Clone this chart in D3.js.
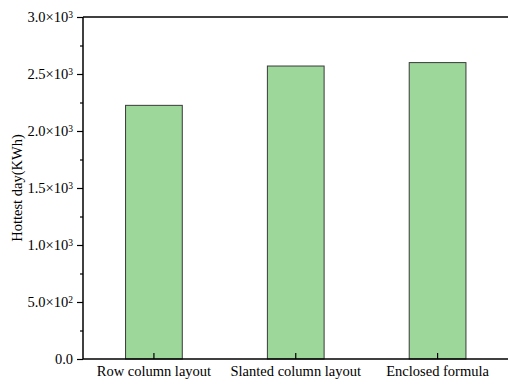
<!DOCTYPE html>
<html>
<head>
<meta charset="utf-8">
<script src="https://cdn.jsdelivr.net/npm/d3@7"></script>
<style>
  body { margin: 0; background: #fff; }
  text { font-family: "Liberation Serif", "Times New Roman", serif; fill: #000; }
</style>
</head>
<body>
<div id="chart"></div>
<script>
const categories = ["Row column layout", "Slanted column layout", "Enclosed formula"];
const values = [2225, 2570, 2600];
const yTicks = [0, 500, 1000, 1500, 2000, 2500, 3000];
const yTickMant = ["0.0", "5.0", "1.0", "1.5", "2.0", "2.5", "3.0"];
const yTickExp = ["", "2", "3", "3", "3", "3", "3"];

const width = 508, height = 381;
const margin = { top: 17, right: 0, bottom: 22, left: 83 };

const svg = d3.select("#chart")
  .append("svg")
  .attr("width", width)
  .attr("height", height);

const x = d3.scaleBand()
  .domain(categories)
  .range([margin.left, width - margin.right + 0.5])
  .paddingInner(0.6)
  .paddingOuter(0.3);

const y = d3.scaleLinear()
  .domain([0, 3000])
  .range([height - margin.bottom, margin.top]);

// bars
svg.selectAll(".bar")
  .data(values)
  .enter()
  .append("rect")
  .attr("class", "bar")
  .attr("x", (d, i) => x(categories[i]))
  .attr("y", (d) => y(d))
  .attr("width", x.bandwidth())
  .attr("height", (d) => y(0) - y(d))
  .attr("fill", "#9dd79a")
  .attr("stroke", "#3a3a3a")
  .attr("stroke-width", 1);

// top frame line
svg.append("line")
  .attr("x1", margin.left)
  .attr("x2", width)
  .attr("y1", y(3000))
  .attr("y2", y(3000))
  .attr("stroke", "#000")
  .attr("stroke-width", 1.5);

// y axis
const yAxis = svg.append("g")
  .attr("transform", `translate(${margin.left},0)`)
  .call(d3.axisLeft(y).tickValues(yTicks).tickSize(6).tickFormat(""));
yAxis.select(".domain").attr("stroke-width", 1.5).attr("d", `M0,${y(0)}V${y(3000)}`);
yAxis.selectAll(".tick line").attr("stroke-width", 1.2);

// minor y ticks
svg.append("g")
  .attr("transform", `translate(${margin.left},0)`)
  .call(d3.axisLeft(y).tickValues(d3.range(250, 3000, 500)).tickSize(3).tickFormat(""))
  .call((g) => g.select(".domain").remove())
  .selectAll(".tick line").attr("stroke-width", 1.2);

// y tick labels with superscript
const yl = svg.selectAll(".ylab")
  .data(yTicks)
  .enter()
  .append("text")
  .attr("class", "ylab")
  .attr("x", margin.left - 10)
  .attr("y", (d) => y(d))
  .attr("dy", "0.35em")
  .attr("text-anchor", "end")
  .style("font-size", "14.5px");
yl.append("tspan").text((d, i) => yTickExp[i] ? yTickMant[i] + "\u00d710" : yTickMant[i]);
yl.filter((d, i) => yTickExp[i] !== "")
  .append("tspan")
  .attr("dy", "-0.45em")
  .style("font-size", "9.5px")
  .text((d) => yTickExp[yTicks.indexOf(d)]);

// x axis
const xAxis = svg.append("g")
  .attr("transform", `translate(0,${y(0)})`)
  .call(d3.axisBottom(x).tickSize(-6).tickSizeOuter(0).tickPadding(7));
xAxis.select(".domain").attr("stroke-width", 1.5).attr("d", `M${margin.left},0H${width}`);
xAxis.selectAll(".tick line").attr("stroke-width", 1.2);
xAxis.selectAll(".tick text")
  .style("font-family", '"Liberation Serif", "Times New Roman", serif')
  .style("font-size", "14.5px");

// y title
svg.append("text")
  .attr("transform", `translate(22,${(y(0) + y(3000)) / 2}) rotate(-90)`)
  .attr("text-anchor", "middle")
  .style("font-size", "14.5px")
  .text("Hottest day(KWh)");
</script>
</body>
</html>
